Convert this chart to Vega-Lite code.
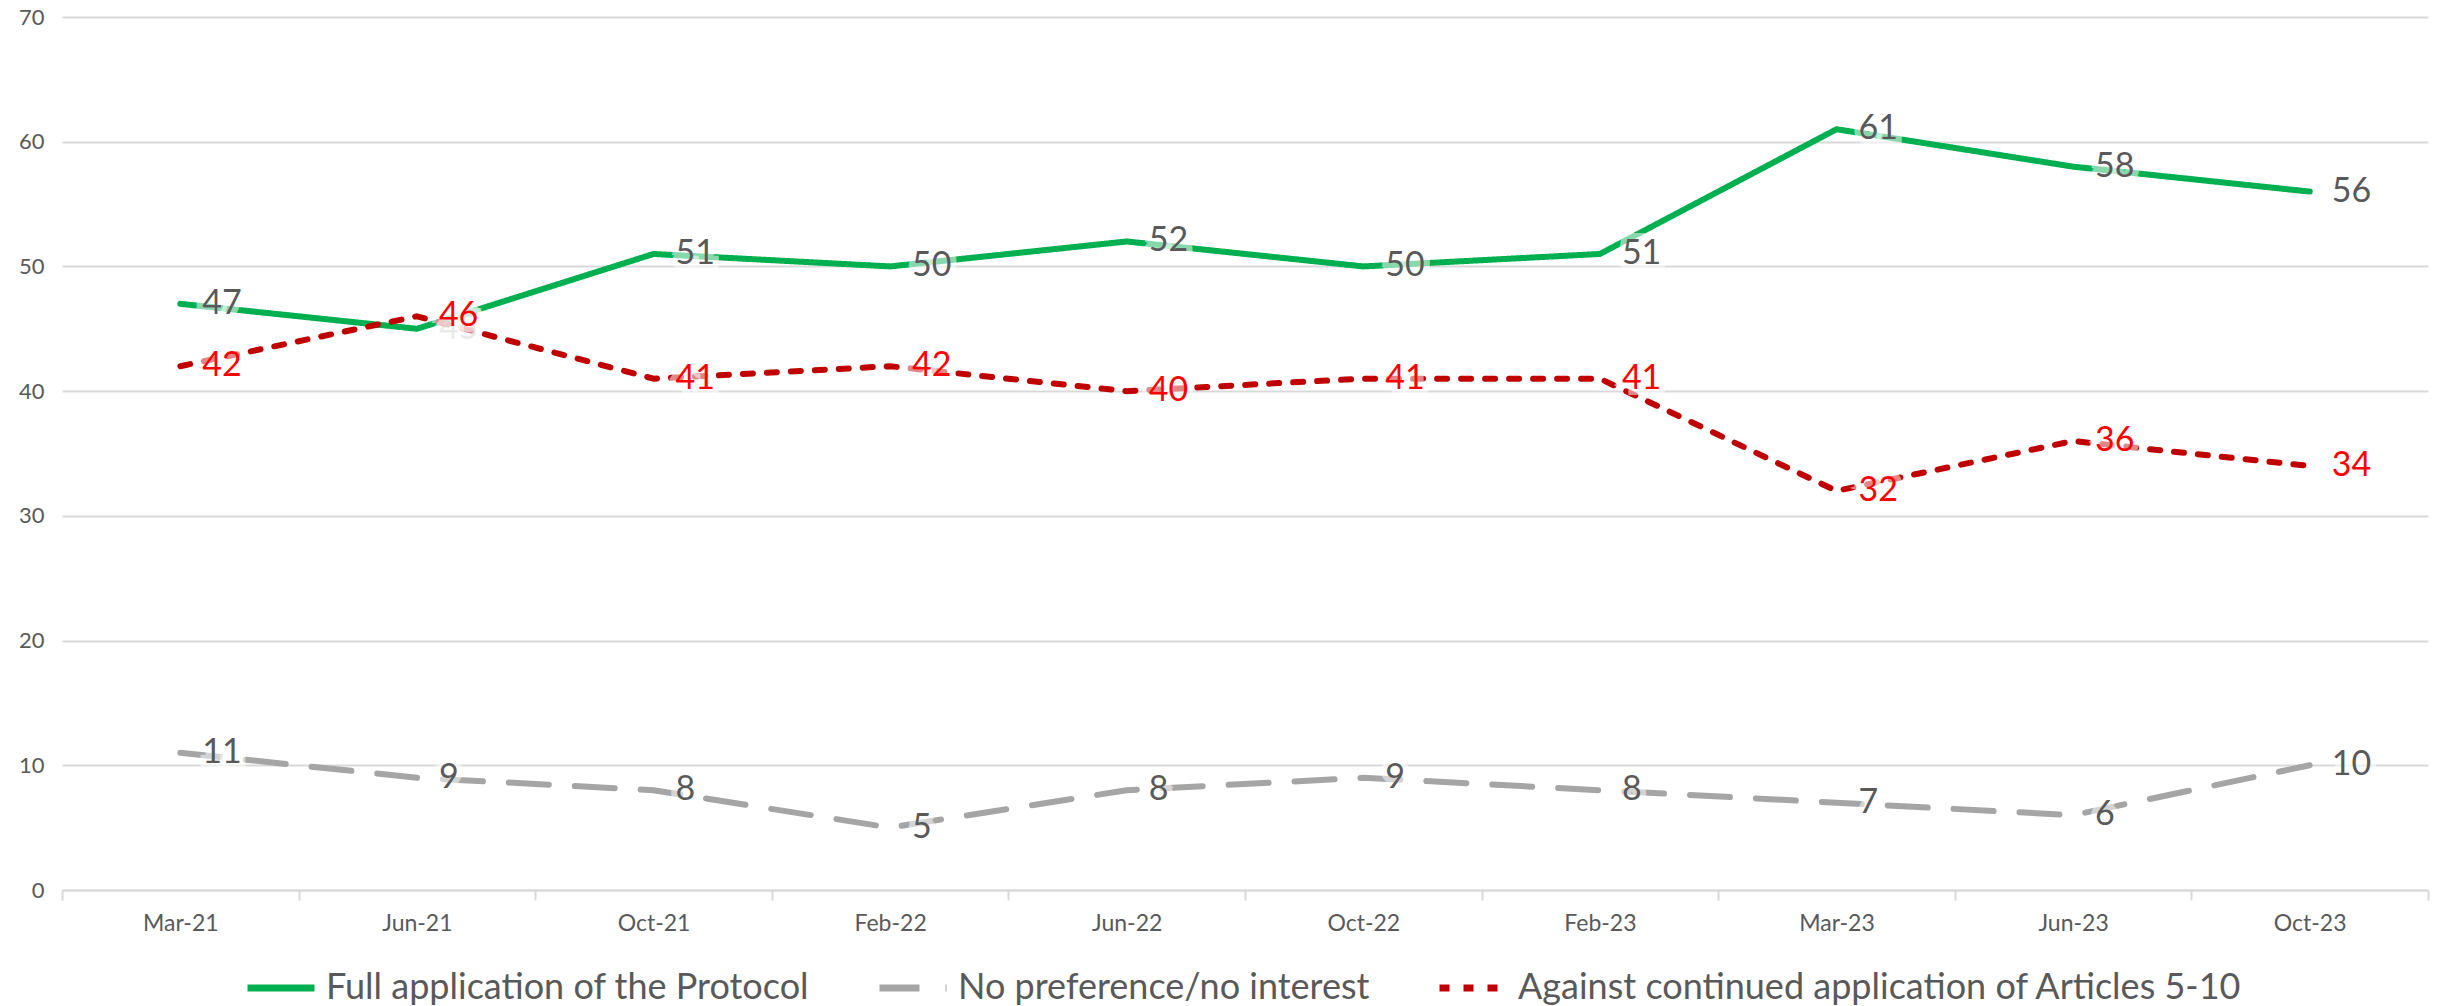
{
  "$schema": "https://vega.github.io/schema/vega-lite/v6.json",
  "width": 2366,
  "height": 873,
  "autosize": {"type": "none"},
  "padding": {"left": 62, "top": 17, "right": 12, "bottom": 116},
  "background": "white",
  "config": {
    "font": "Lato",
    "view": {"stroke": null}
  },
  "data": {
    "values": [
      {"date": "Mar-21", "series": "Full application of the Protocol", "value": 47},
      {"date": "Jun-21", "series": "Full application of the Protocol", "value": 45},
      {"date": "Oct-21", "series": "Full application of the Protocol", "value": 51},
      {"date": "Feb-22", "series": "Full application of the Protocol", "value": 50},
      {"date": "Jun-22", "series": "Full application of the Protocol", "value": 52},
      {"date": "Oct-22", "series": "Full application of the Protocol", "value": 50},
      {"date": "Feb-23", "series": "Full application of the Protocol", "value": 51},
      {"date": "Mar-23", "series": "Full application of the Protocol", "value": 61},
      {"date": "Jun-23", "series": "Full application of the Protocol", "value": 58},
      {"date": "Oct-23", "series": "Full application of the Protocol", "value": 56},
      {"date": "Mar-21", "series": "No preference/no interest", "value": 11},
      {"date": "Jun-21", "series": "No preference/no interest", "value": 9},
      {"date": "Oct-21", "series": "No preference/no interest", "value": 8},
      {"date": "Feb-22", "series": "No preference/no interest", "value": 5},
      {"date": "Jun-22", "series": "No preference/no interest", "value": 8},
      {"date": "Oct-22", "series": "No preference/no interest", "value": 9},
      {"date": "Feb-23", "series": "No preference/no interest", "value": 8},
      {"date": "Mar-23", "series": "No preference/no interest", "value": 7},
      {"date": "Jun-23", "series": "No preference/no interest", "value": 6},
      {"date": "Oct-23", "series": "No preference/no interest", "value": 10},
      {"date": "Mar-21", "series": "Against continued application of Articles 5-10", "value": 42},
      {"date": "Jun-21", "series": "Against continued application of Articles 5-10", "value": 46},
      {"date": "Oct-21", "series": "Against continued application of Articles 5-10", "value": 41},
      {"date": "Feb-22", "series": "Against continued application of Articles 5-10", "value": 42},
      {"date": "Jun-22", "series": "Against continued application of Articles 5-10", "value": 40},
      {"date": "Oct-22", "series": "Against continued application of Articles 5-10", "value": 41},
      {"date": "Feb-23", "series": "Against continued application of Articles 5-10", "value": 41},
      {"date": "Mar-23", "series": "Against continued application of Articles 5-10", "value": 32},
      {"date": "Jun-23", "series": "Against continued application of Articles 5-10", "value": 36},
      {"date": "Oct-23", "series": "Against continued application of Articles 5-10", "value": 34}
    ]
  },
  "encoding": {
    "x": {
      "field": "date",
      "type": "nominal",
      "sort": null,
      "bandPosition": 0.5,
      "scale": {"type": "band", "paddingInner": 0, "paddingOuter": 0},
      "axis": {
        "title": null,
        "labelAngle": 0,
        "labelFontSize": 23,
        "labelColor": "#595959",
        "labelPadding": 12,
        "tickBand": "extent",
        "tickSize": 10,
        "tickColor": "#D9D9D9",
        "tickWidth": 2,
        "domainColor": "#D9D9D9",
        "domainWidth": 2,
        "grid": false
      }
    },
    "y": {
      "field": "value",
      "type": "quantitative",
      "scale": {"domain": [0, 70], "nice": false},
      "axis": {
        "title": null,
        "values": [0, 10, 20, 30, 40, 50, 60, 70],
        "labelFontSize": 22,
        "labelColor": "#595959",
        "labelPadding": 18,
        "ticks": false,
        "domain": false,
        "gridColor": "#D9D9D9",
        "gridWidth": 2
      }
    }
  },
  "layer": [
    {
      "mark": {"type": "line", "strokeWidth": 6, "strokeCap": "round", "strokeJoin": "round"},
      "encoding": {
        "color": {
          "field": "series",
          "type": "nominal",
          "sort": null,
          "scale": {
            "domain": ["Full application of the Protocol", "No preference/no interest", "Against continued application of Articles 5-10"],
            "range": ["#00B050", "#A5A5A5", "#C00000"]
          },
          "legend": {
            "title": null,
            "orient": "none",
            "legendX": 182,
            "legendY": 934,
            "direction": "horizontal",
            "symbolType": "stroke",
            "symbolSize": 4489,
            "symbolStrokeWidth": 7,
            "labelFontSize": 36,
            "labelColor": "#595959",
            "labelLimit": 1000,
            "columnPadding": 55,
            "labelOffset": 8
          }
        },
        "strokeDash": {
          "field": "series",
          "type": "nominal",
          "sort": null,
          "scale": {
            "domain": ["Full application of the Protocol", "No preference/no interest", "Against continued application of Articles 5-10"],
            "range": [[1, 0], [40, 26], [10, 14]]
          },
          "legend": null
        }
      }
    },
    {
      "mark": {"type": "text", "align": "left", "baseline": "middle", "dx": 22, "fontSize": 34, "stroke": "white", "strokeWidth": 12, "strokeOpacity": 0.55, "fill": "white", "fillOpacity": 0.55},
      "encoding": {
        "text": {"field": "value", "type": "quantitative"}
      }
    },
    {
      "mark": {"type": "text", "align": "left", "baseline": "middle", "dx": 22, "fontSize": 34},
      "encoding": {
        "text": {"field": "value", "type": "quantitative"},
        "color": {
          "condition": {"test": "datum.series === 'Against continued application of Articles 5-10'", "value": "#FF0000"},
          "value": "#595959"
        },
        "opacity": {
          "condition": {"test": "datum.series === 'Full application of the Protocol' && datum.date === 'Jun-21'", "value": 0.12},
          "value": 1
        }
      }
    }
  ]
}
